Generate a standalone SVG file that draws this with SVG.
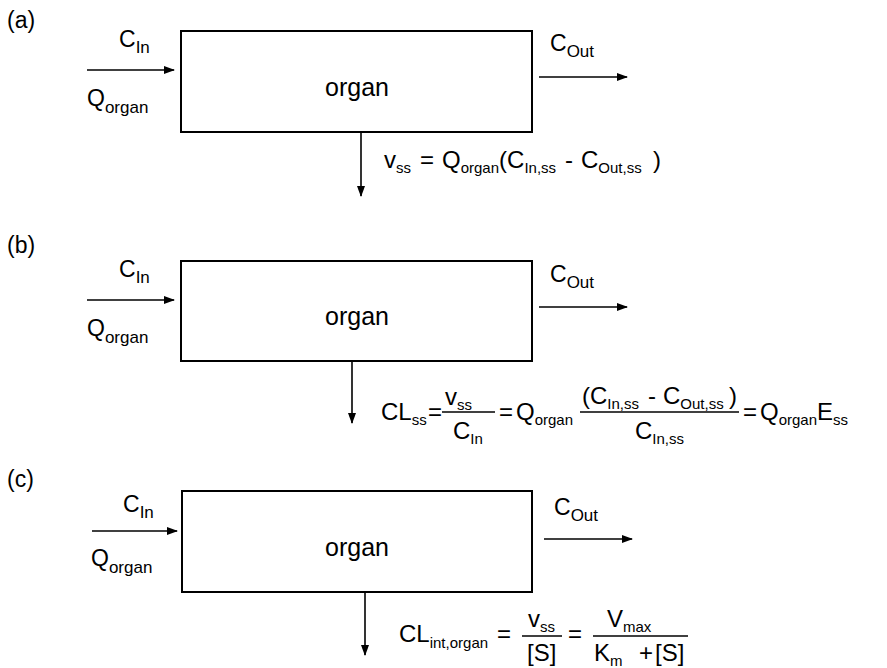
<svg xmlns="http://www.w3.org/2000/svg" width="887" height="668" viewBox="0 0 887 668">
<defs>
<marker id="ah" markerUnits="userSpaceOnUse" markerWidth="11" markerHeight="8" refX="10" refY="4" orient="auto">
<path d="M0,0 L11,4 L0,8 Z" fill="#000"/>
</marker>
<style>
text{font-family:"Liberation Sans",Arial,sans-serif;fill:#000;font-size:24px}
.pl{font-size:23px}
.lb{font-size:23px}
.ls{font-size:17px}
.org{font-size:25px}
.s{font-size:15px}
.box{fill:#fff;stroke:#000;stroke-width:2}
.arr{stroke:#000;stroke-width:1.6;fill:none;marker-end:url(#ah)}
.bar{stroke:#000;stroke-width:1.5}
</style>
</defs>
<rect width="887" height="668" fill="#fff"/>

<!-- panel labels -->
<text class="pl" x="7" y="28">(a)</text>
<text class="pl" x="7" y="253">(b)</text>
<text class="pl" x="7" y="487">(c)</text>

<!-- nodes -->
<g id="organ-a">
<rect class="box" x="181" y="31" width="351" height="101"/>
<text class="org" x="357" y="96" text-anchor="middle">organ</text>
</g>
<g id="organ-b">
<rect class="box" x="181" y="261" width="351" height="100"/>
<text class="org" x="357" y="325" text-anchor="middle">organ</text>
</g>
<g id="organ-c">
<rect class="box" x="182" y="491" width="350" height="101"/>
<text class="org" x="357" y="556" text-anchor="middle">organ</text>
</g>

<!-- connectors -->
<g id="connectors">
<line class="arr" x1="87" y1="70" x2="174" y2="70"/>
<line class="arr" x1="539" y1="77" x2="627" y2="77"/>
<line class="arr" x1="361" y1="132" x2="361" y2="196"/>
<line class="arr" x1="87" y1="300" x2="174" y2="300"/>
<line class="arr" x1="539" y1="307" x2="627" y2="307"/>
<line class="arr" x1="352" y1="361" x2="352" y2="423"/>
<line class="arr" x1="92" y1="531" x2="177" y2="531"/>
<line class="arr" x1="544" y1="539" x2="632" y2="539"/>
<line class="arr" x1="365" y1="592" x2="365" y2="655"/>
</g>

<!-- flow labels -->
<g id="labels-a">
<text class="lb" x="119" y="47">C<tspan class="ls" dy="6">In</tspan></text>
<text class="lb" x="87" y="106">Q<tspan class="ls" dy="7">organ</tspan></text>
<text class="lb" x="550" y="51">C<tspan class="ls" dy="6">Out</tspan></text>
</g>
<g id="labels-b">
<text class="lb" x="119" y="277">C<tspan class="ls" dy="6">In</tspan></text>
<text class="lb" x="87" y="336">Q<tspan class="ls" dy="7">organ</tspan></text>
<text class="lb" x="550" y="282">C<tspan class="ls" dy="6">Out</tspan></text>
</g>
<g id="labels-c">
<text class="lb" x="123" y="512">C<tspan class="ls" dy="6">In</tspan></text>
<text class="lb" x="91" y="566">Q<tspan class="ls" dy="7">organ</tspan></text>
<text class="lb" x="554" y="515">C<tspan class="ls" dy="6">Out</tspan></text>
</g>

<!-- formula (a) -->
<g id="formula-a">
<text x="384" y="168">v<tspan class="s" dy="5">ss</tspan><tspan dy="-5" x="420">=</tspan><tspan x="442">Q</tspan><tspan class="s" dy="5">organ</tspan><tspan dy="-5">(C</tspan><tspan class="s" dy="5">In,ss</tspan><tspan dy="-5" x="565">-</tspan><tspan x="581">C</tspan><tspan class="s" dy="5">Out,ss</tspan><tspan dy="-5" x="653">)</tspan></text>
</g>

<!-- formula (b) -->
<g id="formula-b">
<text x="381" y="420">CL<tspan class="s" dy="5">ss</tspan><tspan dy="-5" x="428">=</tspan></text>
<text x="445" y="405">v<tspan class="s" dy="5">ss</tspan></text>
<line class="bar" x1="442" y1="412" x2="495" y2="412"/>
<text x="453" y="439">C<tspan class="s" dy="5">In</tspan></text>
<text x="499" y="420">=<tspan x="516">Q</tspan><tspan class="s" dy="5">organ</tspan></text>
<text x="582" y="404">(C<tspan class="s" dy="5">In,ss</tspan><tspan dy="-5" x="648">-</tspan><tspan x="663">C</tspan><tspan class="s" dy="5">Out,ss</tspan><tspan dy="-5" x="729">)</tspan></text>
<line class="bar" x1="580" y1="412" x2="739" y2="412"/>
<text x="635" y="439">C<tspan class="s" dy="5">In,ss</tspan></text>
<text x="743" y="420">=<tspan x="760">Q</tspan><tspan class="s" dy="5">organ</tspan><tspan dy="-5">E</tspan><tspan class="s" dy="5">ss</tspan></text>
</g>

<!-- formula (c) -->
<g id="formula-c">
<text x="399" y="642">CL<tspan class="s" dy="6">int,organ</tspan><tspan dy="-6" x="497">=</tspan></text>
<text x="528" y="627">v<tspan class="s" dy="5">ss</tspan></text>
<line class="bar" x1="522" y1="636" x2="562" y2="636"/>
<text x="527" y="661">[S]</text>
<text x="568" y="642">=</text>
<text x="607" y="627">V<tspan class="s" dy="5">max</tspan></text>
<line class="bar" x1="593" y1="636" x2="688" y2="636"/>
<text x="594" y="661">K<tspan class="s" dy="5">m</tspan><tspan dy="-5" x="639">+</tspan><tspan x="655">[S]</tspan></text>
</g>
</svg>
